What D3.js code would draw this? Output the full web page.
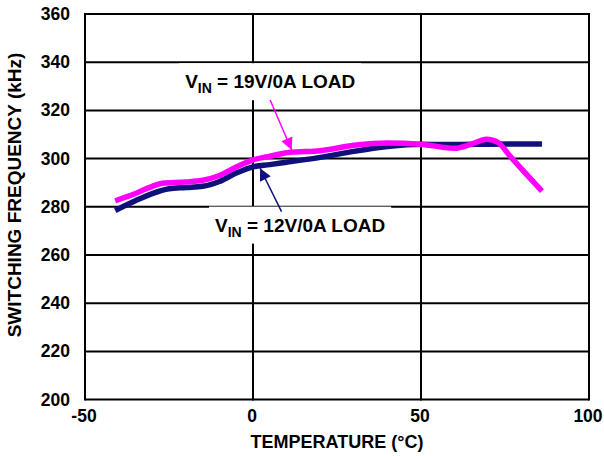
<!DOCTYPE html>
<html>
<head>
<meta charset="utf-8">
<script src="https://cdn.jsdelivr.net/npm/d3@7"></script>
<style>
  body { margin: 0; background: #fff; }
  text { font-family: "Liberation Sans", Arial, sans-serif; font-weight: bold; fill: #000; }
</style>
</head>
<body>
<div id="chart"></div>
<script>
// data
let xTicks = [-50, 0, 50, 100];
let yTicks = [200, 220, 240, 260, 280, 300, 320, 340, 360];

// VIN = 12V / 0A load (navy)
let temp12 = [-41, -35, -30, -25, -20, -15, -10, -5, 0, 5, 10, 20, 30, 40, 50, 60, 70, 86];
let freq12 = [278.5, 282.5, 285.5, 287.5, 288, 288.5, 290.5, 294, 296.6, 297.5, 298.5, 300.5, 303, 305, 306, 305.8, 306, 306.1];

// VIN = 19V / 0A load (magenta)
let temp19 = [-41, -35, -30, -27, -20, -15, -10, -5, 0, 5, 11, 20, 30, 40, 50, 60, 65, 69.5, 73, 76.5, 86];
let freq19 = [282.5, 285.5, 288.5, 289.8, 290.3, 291, 293, 296.5, 299.5, 301, 302.6, 303.3, 305.5, 306.5, 306, 304.3, 306, 308, 306.6, 301, 286.5];

// annotations: [label start temp, baseline freq], arrows: [tailT, tailF, tipT, tipF]
let label19 = [-20.2, 329.2];
let label12 = [-11.3, 269.7];
let arrow19 = [5.1, 324.3, 11.5, 303.6];
let arrow12 = [8.5, 278, 2.1, 296];

let config = { 'svg': {}, 'plot': {} };
config.svg.width = 604;
config.svg.height = 456;
config.plot.left = 85;
config.plot.right = 589;
config.plot.top = 14;
config.plot.bottom = 399.6;

function translate(x, y) {
  return 'translate(' + x + ',' + y + ')';
}

var svg = d3.select('#chart').append('svg')
    .attr('width', config.svg.width)
    .attr('height', config.svg.height);

var x = d3.scaleLinear().domain([-50, 100]).range([config.plot.left, config.plot.right]);
var y = d3.scaleLinear().domain([200, 360]).range([config.plot.bottom, config.plot.top]);

// grid + frame
var grid = svg.append('g');
grid.selectAll('line.h').data(yTicks).enter().append('line')
  .attr('x1', x(-50)).attr('x2', x(100))
  .attr('y1', d => y(d)).attr('y2', d => y(d))
  .attr('stroke', '#000').attr('stroke-width', 2);
grid.selectAll('line.v').data(xTicks).enter().append('line')
  .attr('x1', d => x(d)).attr('x2', d => x(d))
  .attr('y1', y(200) + 1).attr('y2', y(360) - 1)
  .attr('stroke', '#000').attr('stroke-width', 2);

// tick labels
svg.selectAll('text.ytick').data(yTicks).enter().append('text')
  .attr('x', 70).attr('y', d => y(d) + 6)
  .attr('text-anchor', 'end')
  .style('font-size', '17.5px')
  .text(d => d);
svg.selectAll('text.xtick').data(xTicks).enter().append('text')
  .attr('x', d => x(d) - 1).attr('y', 422)
  .attr('text-anchor', 'middle')
  .style('font-size', '17.5px')
  .text(d => d);

// axis titles
svg.append('text')
  .attr('x', 337).attr('y', 448)
  .attr('text-anchor', 'middle')
  .style('font-size', '18px')
  .text('TEMPERATURE (°C)');
svg.append('text')
  .attr('transform', translate(21, 195) + ' rotate(-90)')
  .attr('text-anchor', 'middle')
  .style('font-size', '19px')
  .text('SWITCHING FREQUENCY (kHz)');

// label boxes + labels
function addLabel(pos, vin) {
  var g = svg.append('g');
  var bg = g.append('rect').attr('fill', '#fff');
  var t = g.append('text')
    .attr('x', x(pos[0])).attr('y', y(pos[1]))
    .style('font-size', '19px');
  t.append('tspan').text('V');
  t.append('tspan').attr('dy', 5).style('font-size', '14px').text('IN');
  t.append('tspan').attr('dy', -5).text(' = ' + vin + '/0A LOAD');
  var b = t.node().getBBox();
  bg.attr('x', b.x - 6).attr('y', b.y - 8).attr('width', b.width + 12).attr('height', b.height + 12);
}
addLabel(label19, '19V');
addLabel(label12, '12V');

// series
var line = d3.line()
  .x(d => x(d[0]))
  .y(d => y(d[1]))
  .curve(d3.curveMonotoneX);

svg.append('path')
  .datum(temp12.map((t, i) => [t, freq12[i]]))
  .attr('d', line)
  .attr('fill', 'none')
  .attr('stroke', '#10107a')
  .attr('stroke-width', 5.5);

svg.append('path')
  .datum(temp19.map((t, i) => [t, freq19[i]]))
  .attr('d', line)
  .attr('fill', 'none')
  .attr('stroke', '#ff00ff')
  .attr('stroke-width', 5.5);

// arrows
var defs = svg.append('defs');
function marker(id, color) {
  defs.append('marker')
    .attr('id', id)
    .attr('viewBox', '0 0 10 10')
    .attr('refX', 10).attr('refY', 5)
    .attr('markerUnits', 'userSpaceOnUse')
    .attr('markerWidth', 16).attr('markerHeight', 12)
    .attr('orient', 'auto')
    .append('path')
    .attr('d', 'M0,0 L10,5 L0,10 Z')
    .attr('fill', color);
}
marker('head19', '#ff00ff');
marker('head12', '#10107a');

function addArrow(a, color, id) {
  svg.append('line')
    .attr('x1', x(a[0])).attr('y1', y(a[1]))
    .attr('x2', x(a[2])).attr('y2', y(a[3]))
    .attr('stroke', color)
    .attr('stroke-width', 1.5)
    .attr('marker-end', 'url(#' + id + ')');
}
addArrow(arrow19, '#ff00ff', 'head19');
addArrow(arrow12, '#10107a', 'head12');
</script>
</body>
</html>
